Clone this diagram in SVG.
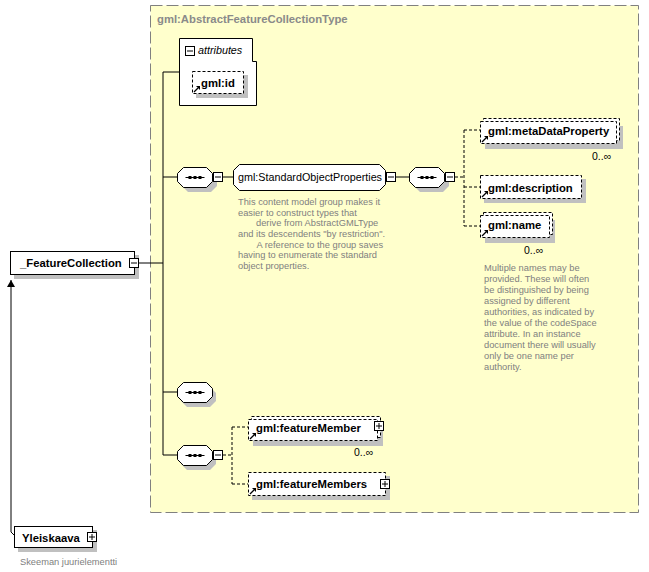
<svg xmlns="http://www.w3.org/2000/svg" width="649" height="572" viewBox="0 0 649 572">
<style>
.b{font-family:"Liberation Sans",Arial,sans-serif;font-weight:bold;font-size:11.3px;fill:#000}
.r{font-family:"Liberation Sans",Arial,sans-serif;font-size:10.75px;fill:#000}
.d{font-family:"Liberation Sans",Arial,sans-serif;font-size:9.3px;fill:#808080}
.m{font-family:"Liberation Sans",Arial,sans-serif;font-size:10.5px;fill:#000}
.t{font-family:"Liberation Sans",Arial,sans-serif;font-weight:bold;font-size:11.3px;fill:#8a8a8a}
.sh{fill:#c0c0c0;stroke:none}
.box{fill:#fff;stroke:#000;stroke-width:1}
.dbox{fill:#fff;stroke:#000;stroke-width:1;stroke-dasharray:3,2}
.ln{stroke:#000;stroke-width:1;fill:none}
.dl{stroke:#000;stroke-width:1;fill:none;stroke-dasharray:3,2}
</style>
<defs>
<g id="btnMinus"><rect x="0.5" y="0.5" width="9" height="9" fill="#fff" stroke="#000"/><line x1="2" y1="5" x2="8" y2="5" stroke="#000"/></g>
<g id="btnPlus"><rect x="0.5" y="0.5" width="9" height="9" fill="#fff" stroke="#000"/><line x1="2" y1="5" x2="8" y2="5" stroke="#000"/><line x1="5" y1="2" x2="5" y2="8" stroke="#000"/></g>
<g id="refIcon"><line x1="0" y1="6" x2="4" y2="2" stroke="#000" stroke-width="1.2"/><path d="M2,0 L6,0 L6,4 Z" fill="#000"/></g>
<g id="seq">
<path d="M6,0 H29 L35,6 V14 L29,20 H6 L0,14 V6 Z" fill="#fff" stroke="#000"/>
<line x1="8" y1="10" x2="27" y2="10" stroke="#000"/>
<rect x="11" y="8.5" width="3" height="3" fill="#000"/><rect x="16" y="8.5" width="3" height="3" fill="#000"/><rect x="21" y="8.5" width="3" height="3" fill="#000"/>
</g>
<path id="seqsh" d="M6,0 H29 L35,6 V14 L29,20 H6 L0,14 V6 Z" fill="#c0c0c0"/>
<marker id="arr" markerWidth="8" markerHeight="8" refX="7" refY="4" orient="auto" markerUnits="userSpaceOnUse"><path d="M0,0 L7,4 L0,8 Z" fill="#000"/></marker>
</defs>

<g id="complexType">
<rect x="150.5" y="5.5" width="488" height="507" fill="#ffffcc" stroke="#808080" stroke-dasharray="12,4"/>
<text class="t" x="157" y="23">gml:AbstractFeatureCollectionType</text>
</g>

<g id="connectors">
<path class="ln" d="M15,536 L11,532 L11,280" marker-end="url(#arr)"/>
<line class="ln" x1="139" y1="263" x2="163" y2="263"/>
<line class="ln" x1="163" y1="72" x2="163" y2="455"/>
<line class="ln" x1="163" y1="72" x2="179" y2="72"/>
<line class="ln" x1="163" y1="177" x2="178" y2="177"/>
<line class="ln" x1="163" y1="392" x2="177" y2="392"/>
<line class="ln" x1="163" y1="455" x2="177" y2="455"/>
<line class="ln" x1="222" y1="177" x2="233" y2="177"/>
<line class="ln" x1="396" y1="177" x2="410" y2="177"/>
<line class="dl" x1="455" y1="177" x2="464" y2="177"/>
<line class="dl" x1="464" y1="130" x2="464" y2="226"/>
<line class="dl" x1="464" y1="130" x2="480" y2="130"/>
<line class="dl" x1="464" y1="187" x2="480" y2="187"/>
<line class="dl" x1="464" y1="226" x2="480" y2="226"/>
<line class="dl" x1="223" y1="455" x2="232" y2="455"/>
<line class="dl" x1="232" y1="427" x2="232" y2="484"/>
<line class="dl" x1="232" y1="427" x2="248" y2="427"/>
<line class="dl" x1="232" y1="484" x2="248" y2="484"/>
</g>

<g id="featureCollection">
<rect class="sh" x="14" y="255" width="125" height="24"/>
<rect class="box" x="10.5" y="251.5" width="124" height="23"/>
<text class="b" x="20" y="267">_FeatureCollection</text>
<use href="#btnMinus" x="129" y="258"/>
</g>

<g id="attributes">
<path class="box" d="M179.5,38.5 H252.5 V61.5 H256.5 V105.5 H179.5 Z"/>
<use href="#btnMinus" x="185" y="46"/>
<text class="r" x="198" y="54" font-style="italic">attributes</text>
</g>

<g id="gml_id">
<rect class="sh" x="196" y="75" width="52" height="23"/>
<rect class="dbox" x="192.5" y="71.5" width="51" height="22"/>
<use href="#refIcon" x="194" y="86"/>
<text class="b" x="201" y="87">gml:id</text>
</g>

<g id="seq1">
<use href="#seqsh" x="182" y="172"/>
<use href="#seq" x="177.5" y="167.5"/>
<use href="#btnMinus" x="213" y="172"/>
</g>

<g id="standardObjectProperties">
<path d="M239.5,164.5 H379.5 L385.5,170.5 V184.5 L379.5,190.5 H239.5 L233.5,184.5 V170.5 Z" fill="#fff" stroke="#000"/>
<text class="r" x="238" y="181" textLength="144" lengthAdjust="spacingAndGlyphs">gml:StandardObjectProperties</text>
<use href="#btnMinus" x="386" y="172"/>
<text class="d" x="238" y="205">This content model group makes it</text>
<text class="d" x="238" y="215.7">easier to construct types that</text>
<text class="d" x="256" y="226.3">derive from AbstractGMLType</text>
<text class="d" x="238" y="237">and its descendents "by restriction".</text>
<text class="d" x="256.5" y="247.7">A reference to the group saves</text>
<text class="d" x="238" y="258.3">having to enumerate the standard</text>
<text class="d" x="238" y="269">object properties.</text>
</g>

<g id="seq2">
<use href="#seqsh" x="414" y="172"/>
<use href="#seq" x="409.5" y="167.5"/>
<use href="#btnMinus" x="445" y="172"/>
</g>

<g id="metaDataProperty">
<rect class="sh" x="485" y="126" width="138" height="23"/>
<rect class="dbox" x="483.5" y="118.5" width="136" height="22"/>
<rect class="dbox" x="480.5" y="121.5" width="136" height="22"/>
<use href="#refIcon" x="482" y="136"/>
<text class="b" x="488" y="135">gml:metaDataProperty</text>
<text class="m" x="592" y="160">0..∞</text>
</g>

<g id="description">
<rect class="sh" x="484" y="179" width="102" height="24"/>
<rect class="dbox" x="480.5" y="175.5" width="101" height="23"/>
<use href="#refIcon" x="482" y="191"/>
<text class="b" x="488" y="192">gml:description</text>
</g>

<g id="name">
<rect class="sh" x="485" y="220" width="70" height="23"/>
<rect class="dbox" x="483.5" y="212.5" width="69" height="22"/>
<rect class="dbox" x="480.5" y="215.5" width="69" height="22"/>
<use href="#refIcon" x="482" y="230"/>
<text class="b" x="488" y="229">gml:name</text>
<text class="m" x="524" y="254">0..∞</text>
<text class="d" x="484" y="270.5">Multiple names may be</text>
<text class="d" x="484" y="281.5">provided.  These will often</text>
<text class="d" x="484" y="292.5">be distinguished by being</text>
<text class="d" x="484" y="303.5">assigned by different</text>
<text class="d" x="484" y="314.5">authorities, as indicated by</text>
<text class="d" x="484" y="325.5">the value of the codeSpace</text>
<text class="d" x="484" y="336.5">attribute.  In an instance</text>
<text class="d" x="484" y="347.5">document there will usually</text>
<text class="d" x="484" y="358.5">only be one name per</text>
<text class="d" x="484" y="369.5">authority.</text>
</g>

<g id="seq3">
<use href="#seqsh" x="181" y="387"/>
<use href="#seq" x="177.5" y="382.5"/>
</g>

<g id="seq4">
<use href="#seqsh" x="181" y="450"/>
<use href="#seq" x="177.5" y="445.5"/>
<use href="#btnMinus" x="213" y="450"/>
</g>

<g id="featureMember">
<rect class="sh" x="253" y="424" width="130" height="22"/>
<rect class="dbox" x="251.5" y="416.5" width="129" height="21"/>
<rect class="dbox" x="248.5" y="419.5" width="129" height="21"/>
<use href="#refIcon" x="250" y="433"/>
<text class="b" x="256" y="432">gml:featureMember</text>
<use href="#btnPlus" x="374" y="421"/>
<text class="m" x="354" y="456">0..∞</text>
</g>

<g id="featureMembers">
<rect class="sh" x="252" y="476" width="138" height="24"/>
<rect class="dbox" x="248.5" y="472.5" width="137" height="23"/>
<use href="#refIcon" x="250" y="488"/>
<text class="b" x="256" y="488">gml:featureMembers</text>
<use href="#btnPlus" x="380" y="479"/>
</g>

<g id="yleiskaava">
<rect class="sh" x="18" y="530" width="79" height="22"/>
<rect class="box" x="14.5" y="526.5" width="78" height="21"/>
<text class="b" x="22" y="542">Yleiskaava</text>
<use href="#btnPlus" x="87" y="532"/>
<text class="d" x="20" y="565">Skeeman juurielementti</text>
</g>
</svg>
